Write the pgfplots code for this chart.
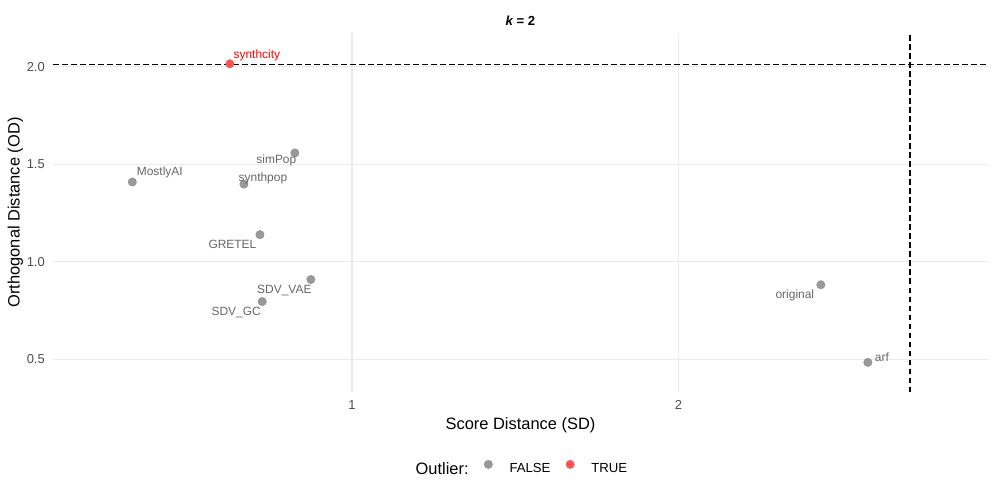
\documentclass[border=0pt]{standalone}
\usepackage{fontspec}
\setmainfont{Liberation Sans}
\usepackage{pgfplots}
\pgfplotsset{compat=1.18}
\usepackage{pgfplotstable}

\definecolor{ptgray}{RGB}{153,153,153}
\definecolor{ptgrayedge}{RGB}{140,140,140}
\definecolor{ptred}{RGB}{248,86,86}
\definecolor{labgray}{RGB}{102,102,102}
\definecolor{gridc}{RGB}{235,235,235}
\definecolor{tickc}{RGB}{77,77,77}

% x = SD, y = OD, dx/dy = label offset (bp)
\pgfplotstableread{
x     y      dx     dy     label
0.327 1.409  27.5   6.0    MostlyAI
0.825 1.558  -18.5  -10.8  simPop
0.669 1.398  19.0   2.3    synthpop
0.718 1.139  -27.5  -14.0  GRETEL
0.874 0.909  -26.5  -14.3  SDV\_VAE
0.725 0.796  -26.0  -14.3  SDV\_GC
2.436 0.882  -26.0  -13.7  original
2.580 0.484  14.0   0.7    arf
}\falsepts

\pgfplotstableread{
x     y      dx     dy     label
0.626 2.015  27.0   5.2    synthcity
}\truepts

\pgfplotsset{
  labelled/.style={
    forget plot,
    only marks, mark=*, mark size=4.2bp,
    visualization depends on={\thisrow{dx}\as\labx},
    visualization depends on={\thisrow{dy}\as\laby},
    point meta=explicit symbolic,
    nodes near coords,
    nodes near coords style={anchor=base, xshift=\labx bp, yshift=\laby bp,
      inner sep=0pt, font=\fontsize{12}{14}\selectfont},
  },
  dot legend/.style={
    legend image code/.code={\draw[##1] plot coordinates {(0bp,4.7bp)};},
  },
  cutoff/.style={forget plot, black, line width=1.4bp, dash pattern=on 5.5bp off 3.5bp},
}

\begin{document}
\begin{tikzpicture}
\useasboundingbox (-53bp,-106bp) rectangle (944bp,392bp);
\begin{axis}[
  at={(0,0)}, anchor=south west,
  scale only axis, width=935bp, height=359bp,
  xmin=0.0842, xmax=2.948, ymin=0.332, ymax=2.173,
  axis line style={draw=none},
  major tick length=0pt,
  xtick={1,2}, ytick={0.5,1,1.5,2},
  xticklabels={1,2}, yticklabels={0.5,1.0,1.5,2.0},
  grid=major, major grid style={gridc, line width=1.2bp},
  ticklabel style={font=\fontsize{13}{15}\selectfont, text=tickc, inner sep=0pt},
  xticklabel style={anchor=north, yshift=-8bp},
  yticklabel style={anchor=east, xshift=-8bp},
  xlabel={Score Distance (SD)},
  ylabel={Orthogonal Distance (OD)},
  label style={font=\fontsize{16.5}{18}\selectfont, inner sep=0pt},
  xlabel style={at={(axis description cs:0.5,-0.1031)}, anchor=base},
  ylabel style={at={(axis description cs:-0.0358,0.5)}, anchor=base},
  title={{\itshape k} = 2},
  every axis title shift=0pt,
  title style={at={(axis description cs:0.5,1.0195)}, anchor=base, inner sep=0pt,
    font=\bfseries\fontsize{13.2}{15}\selectfont},
  legend columns=-1,
  legend style={at={(axis description cs:0.4919,-0.2117)}, anchor=center, draw=none,
    fill=none, font=\fontsize{13.2}{15}\selectfont, nodes={inner sep=0pt},
    /tikz/every odd column/.append style={column sep=17bp},
    /tikz/every even column/.append style={column sep=15.5bp}},
]
\addlegendimage{empty legend}
\addlegendentry{\fontsize{16.5}{18}\selectfont Outlier:}
\addlegendimage{dot legend, only marks, mark=*, mark size=4.2bp,
  mark options={fill=ptgray, draw=ptgrayedge, line width=0.4bp}}
\addlegendentry{FALSE}
\addlegendimage{dot legend, only marks, mark=*, mark size=4.2bp,
  mark options={fill=ptred, draw=ptred, line width=0.4bp}}
\addlegendentry{TRUE}

\addplot[labelled,
  mark options={fill=ptgray, draw=ptgrayedge, line width=0.4bp},
  nodes near coords style={text=labgray}]
  table[x=x, y=y, meta=label] {\falsepts};

\addplot[labelled,
  mark options={fill=ptred, draw=ptred, line width=0.4bp},
  nodes near coords style={text=red}]
  table[x=x, y=y, meta=label] {\truepts};

% cut-off lines
\addplot[cutoff] coordinates {(0.0842,2.012) (2.948,2.012)};
\addplot[cutoff] coordinates {(2.709,0.332) (2.709,2.173)};
\end{axis}
\end{tikzpicture}
\end{document}
